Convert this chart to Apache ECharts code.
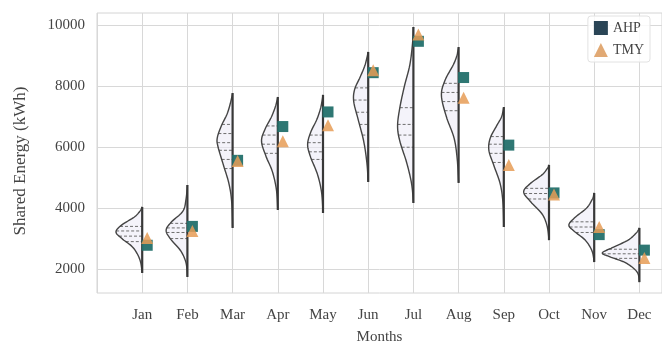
<!DOCTYPE html>
<html>
<head>
<meta charset="utf-8">
<script src="https://cdn.jsdelivr.net/npm/echarts@6/dist/echarts.min.js"></script>
<style>
  html, body { margin: 0; padding: 0; background: #fff; }
  #chart { width: 662px; height: 344px; }
</style>
</head>
<body>
<div id="chart"></div>
<script>
// Monthly shared energy (kWh)
const months = ['Jan', 'Feb', 'Mar', 'Apr', 'May', 'Jun', 'Jul', 'Aug', 'Sep', 'Oct', 'Nov', 'Dec'];
const ahpEnergy = [2780, 3400, 5570, 6680, 7160, 8450, 9480, 8290, 6070, 4500, 3130, 2620];
const tmyEnergy = [3020, 3250, 5550, 6200, 6720, 8530, 9700, 7630, 5420, 4450, 3380, 2360];
const yTickValues = [2000, 4000, 6000, 8000, 10000];

// Half-violin outlines per month: [energy, half width in month units]
const violinProfiles = [
  [[1870, 0], [2300, 0.05], [2700, 0.2], [3000, 0.45], [3220, 0.58], [3450, 0.45], [3700, 0.18], [3900, 0.05], [4040, 0]],
  [[1740, 0], [2200, 0.03], [2600, 0.15], [3000, 0.38], [3280, 0.47], [3550, 0.35], [3900, 0.1], [4300, 0.03], [4760, 0]],
  [[3350, 0], [4200, 0.02], [4800, 0.08], [5400, 0.2], [6000, 0.32], [6300, 0.34], [6700, 0.25], [7100, 0.12], [7500, 0.04], [7780, 0]],
  [[3940, 0], [4600, 0.03], [5200, 0.12], [5700, 0.26], [6200, 0.36], [6600, 0.28], [7000, 0.14], [7350, 0.05], [7650, 0]],
  [[3840, 0], [4500, 0.03], [5100, 0.12], [5700, 0.28], [6100, 0.34], [6500, 0.27], [6900, 0.14], [7300, 0.05], [7720, 0]],
  [[4860, 0], [5500, 0.03], [6200, 0.1], [6900, 0.22], [7500, 0.32], [7900, 0.3], [8300, 0.18], [8700, 0.07], [9130, 0]],
  [[4170, 0], [4800, 0.04], [5500, 0.15], [6200, 0.3], [6700, 0.35], [7300, 0.3], [8000, 0.2], [8700, 0.08], [9400, 0.02], [9950, 0]],
  [[4830, 0], [5600, 0.03], [6300, 0.1], [7000, 0.27], [7700, 0.38], [8200, 0.3], [8700, 0.12], [9000, 0.04], [9290, 0]],
  [[3380, 0], [4200, 0.02], [4800, 0.08], [5400, 0.22], [5900, 0.33], [6300, 0.3], [6700, 0.16], [7000, 0.05], [7320, 0]],
  [[2950, 0], [3400, 0.04], [3800, 0.15], [4200, 0.4], [4530, 0.56], [4800, 0.42], [5100, 0.15], [5300, 0.04], [5420, 0]],
  [[2230, 0], [2600, 0.05], [2950, 0.2], [3250, 0.45], [3450, 0.56], [3700, 0.42], [4000, 0.17], [4300, 0.04], [4500, 0]],
  [[1570, 0], [1900, 0.05], [2200, 0.3], [2400, 0.65], [2530, 0.82], [2700, 0.6], [2950, 0.25], [3200, 0.06], [3350, 0]]
];

// Inner dashed levels drawn across each half-violin
const innerLevels = [
  [2900, 3080, 3250, 3400],
  [3000, 3200, 3350, 3500],
  [5300, 5600, 5900, 6150, 6450, 6750],
  [5800, 6100, 6400, 6700],
  [5600, 5850, 6150, 6400],
  [6400, 6750, 7150, 7550, 7950],
  [6000, 6400, 6750, 7300],
  [7200, 7500, 7800, 8100],
  [5500, 5800, 6100, 6350],
  [4300, 4480, 4650],
  [3200, 3380, 3550],
  [2350, 2500, 2650]
];

const FONT = "'Liberation Serif', 'DejaVu Serif', serif";

// Catmull-Rom pass so the outline runs smoothly through the profile points
function smoothProfile(pts) {
  const out = [];
  const n = pts.length;
  for (let i = 0; i < n - 1; i++) {
    const p0 = pts[Math.max(i - 1, 0)], p1 = pts[i], p2 = pts[i + 1], p3 = pts[Math.min(i + 2, n - 1)];
    for (let s = 0; s < 10; s++) {
      const t = s / 10, t2 = t * t, t3 = t2 * t;
      const f = (a, b, c, d) => 0.5 * (2 * b + (-a + c) * t + (2 * a - 5 * b + 4 * c - d) * t2 + (-a + 3 * b - 3 * c + d) * t3);
      out.push([f(p0[0], p1[0], p2[0], p3[0]), Math.max(0, f(p0[1], p1[1], p2[1], p3[1]))]);
    }
  }
  out.push(pts[n - 1]);
  return out;
}
const smoothed = violinProfiles.map(smoothProfile);

function widthAt(prof, v) {
  for (let k = 0; k < prof.length - 1; k++) {
    const a = prof[k], b = prof[k + 1];
    if (v >= a[0] && v <= b[0]) {
      const r = (v - a[0]) / ((b[0] - a[0]) || 1);
      return a[1] + r * (b[1] - a[1]);
    }
  }
  return 0;
}

function renderViolin(params, api) {
  const i = api.value(0);
  const prof = smoothed[i];
  const outline = prof.map(p => api.coord([i - p[1], p[0]]));
  const top = api.coord([i, prof[prof.length - 1][0]]);
  const bottom = api.coord([i, prof[0][0]]);
  const children = [{
    type: 'polygon',
    shape: { points: outline.concat([top, bottom]) },
    style: { fill: 'rgba(234,232,245,0.5)', stroke: null }
  }];
  innerLevels[i].forEach(v => {
    const w = widthAt(prof, v);
    const a = api.coord([i - w, v]);
    const b = api.coord([i, v]);
    children.push({
      type: 'line',
      shape: { x1: a[0], y1: a[1], x2: b[0], y2: b[1] },
      style: { stroke: '#6e6e6e', lineWidth: 1, lineDash: [3, 2] }
    });
  });
  children.push({
    type: 'polyline',
    shape: { points: outline },
    style: { stroke: '#444', lineWidth: 1.4, fill: null }
  });
  children.push({
    type: 'line',
    shape: { x1: top[0], y1: top[1], x2: bottom[0], y2: bottom[1] },
    style: { stroke: '#383838', lineWidth: 2.2 }
  });
  return { type: 'group', children };
}

const chart = echarts.init(document.getElementById('chart'), null, { renderer: 'canvas' });

chart.setOption({
  animation: false,
  backgroundColor: '#fff',
  textStyle: { fontFamily: FONT },
  grid: {
    left: 97, right: 0, top: 13, bottom: 51,
    outerBoundsMode: 'none',
    containLabel: false,
    show: true, borderColor: '#d4d4d4', borderWidth: 1, backgroundColor: '#fff'
  },
  legend: {
    orient: 'vertical',
    right: 12, top: 16,
    itemWidth: 14, itemHeight: 14, itemGap: 8,
    padding: [5, 6, 5, 6],
    backgroundColor: 'rgba(255,255,255,0.85)',
    borderColor: '#e2e2e2', borderWidth: 1, borderRadius: 3,
    textStyle: { fontFamily: FONT, fontSize: 14, color: '#444' },
    data: [
      { name: 'AHP', icon: 'rect', itemStyle: { color: '#1f3b4d' } },
      { name: 'TMY', icon: 'triangle', itemStyle: { color: '#dc9a5c' } }
    ]
  },
  xAxis: {
    type: 'value',
    min: -1, max: 11.5, interval: 1,
    name: 'Months', nameLocation: 'middle', nameGap: 37,
    nameTextStyle: { fontFamily: FONT, fontSize: 15, color: '#444' },
    axisLine: { show: false },
    axisTick: { show: false },
    axisLabel: {
      margin: 15, fontFamily: FONT, fontSize: 15, color: '#444',
      formatter: v => (Number.isInteger(v) && months[v]) ? months[v] : ''
    },
    splitLine: { show: true, lineStyle: { color: '#d8d8d8', width: 1 } }
  },
  yAxis: {
    type: 'value',
    min: 1212, max: 10410,
    name: 'Shared Energy (kWh)', nameLocation: 'middle', nameGap: 68,
    nameTextStyle: { fontFamily: FONT, fontSize: 17, color: '#444', padding: [0, 16, 0, 0] },
    axisLine: { show: false },
    axisTick: { show: false, customValues: yTickValues },
    axisLabel: {
      margin: 12, fontFamily: FONT, fontSize: 15, color: '#444',
      customValues: yTickValues,
      formatter: v => String(v)
    },
    splitLine: { show: true, lineStyle: { color: '#d8d8d8', width: 1 } }
  },
  series: [
    {
      type: 'custom',
      name: 'distribution',
      renderItem: renderViolin,
      encode: { x: 0, y: [1, 2] },
      data: violinProfiles.map((p, i) => [i, p[0][0], p[p.length - 1][0]]),
      z: 2,
      silent: true
    },
    {
      type: 'scatter',
      name: 'AHP',
      symbol: 'rect',
      symbolSize: 11,
      symbolOffset: [5, 0],
      itemStyle: { color: '#23706b', opacity: 0.95 },
      data: ahpEnergy.map((v, i) => [i, v]),
      z: 3
    },
    {
      type: 'scatter',
      name: 'TMY',
      symbol: 'triangle',
      symbolSize: 12,
      symbolOffset: [5, 0],
      itemStyle: { color: '#e69c56', opacity: 0.85 },
      data: tmyEnergy.map((v, i) => [i, v]),
      z: 4
    }
  ]
});
</script>
</body>
</html>
